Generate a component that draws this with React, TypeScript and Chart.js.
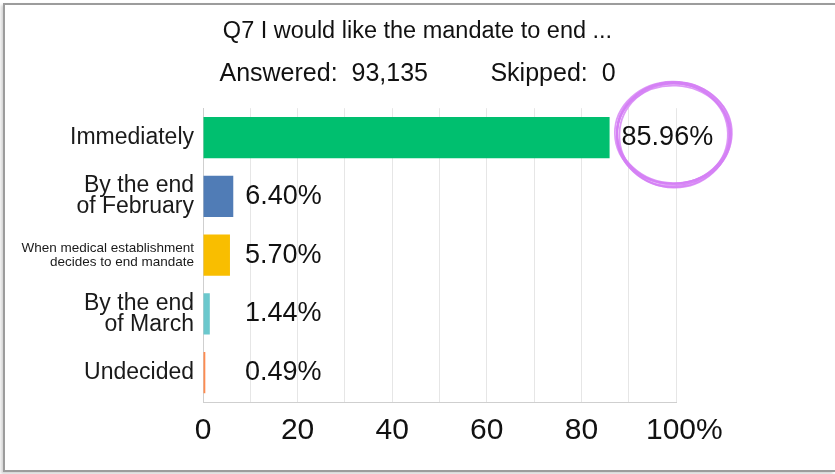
import React, { useEffect, useRef } from 'react';
import { Chart, registerables } from 'chart.js';

Chart.register(...registerables);

const FONT = '"Liberation Sans", Arial, Helvetica, sans-serif';

const titleText = 'Q7 I would like the mandate to end ...';
const answeredText = 'Answered:  93,135';
const skippedText = 'Skipped:  0';

const categories: (string | string[])[] = [
  'Immediately',
  ['By the end', 'of February'],
  ['When medical establishment', 'decides to end mandate'],
  ['By the end', 'of March'],
  'Undecided',
];
const values = [85.96, 6.4, 5.7, 1.44, 0.49];
const barColors = ['#00BF6F', '#507CB6', '#F9BE00', '#6BC8CD', '#FF8B4F'];
const xLabelValues = [0, 20, 40, 60, 80, 100];
const xMax = 100;

const sketchStrokes = [
  [0, 0, 0, 0, 0],
  [1, -1, 1.5, 0.5, 0.03],
  [-1, 1, -0.5, 1.5, -0.03],
  [0.5, 1.5, 1, -0.5, 0.05],
  [-0.5, -1, 2, 1, -0.02],
  [1, 2, -1, 2, 0.02],
  [0, 1, 0.5, 2.5, 0.01],
];

const valueLabels = {
  id: 'valueLabels',
  afterDatasetsDraw(chart: any) {
    const { ctx } = chart;
    const meta = chart.getDatasetMeta(0);
    const x0 = chart.scales.x.getPixelForValue(0);
    const maxIdx = values.indexOf(Math.max(...values));
    ctx.save();
    ctx.font = `27px ${FONT}`;
    ctx.fillStyle = '#111';
    ctx.textAlign = 'left';
    ctx.textBaseline = 'middle';
    meta.data.forEach((bar: any, i: number) => {
      const text = values[i].toFixed(2) + '%';
      const x = Math.max(bar.x + 12, x0 + 42);
      ctx.fillText(text, x, bar.y);
      if (i === maxIdx) {
        const w = ctx.measureText(text).width;
        const cx = x + w / 2 + 6;
        const cy = bar.y - 4;
        ctx.save();
        ctx.strokeStyle = 'rgba(212, 128, 245, 0.8)';
        ctx.lineWidth = 1.8;
        sketchStrokes.forEach(([dx, dy, drx, dry, rot]) => {
          ctx.beginPath();
          ctx.ellipse(cx + dx, cy + dy, 56 + drx, 50 + dry, rot, 0, Math.PI * 2);
          ctx.stroke();
        });
        ctx.restore();
      }
    });
    ctx.restore();
  },
};

export default function App() {
  const ref = useRef<HTMLCanvasElement | null>(null);

  useEffect(() => {
    if (!ref.current) return;
    const chart = new Chart(ref.current, {
      type: 'bar',
      data: {
        labels: categories,
        datasets: [
          {
            data: values,
            backgroundColor: barColors,
            borderWidth: 0,
            barPercentage: 0.7,
            categoryPercentage: 1,
          },
        ],
      },
      options: {
        indexAxis: 'y',
        responsive: false,
        animation: false,
        layout: { padding: { top: 0, left: 5, right: 5, bottom: 0 } },
        plugins: {
          legend: { display: false },
          tooltip: { enabled: false },
          title: {
            display: true,
            text: titleText,
            color: '#111',
            font: { family: FONT, size: 23.5, weight: 'normal', lineHeight: 1.2 },
            padding: { top: 17, bottom: 14 },
          },
          subtitle: {
            display: true,
            text: answeredText + ' '.repeat(9) + skippedText,
            color: '#111',
            font: { family: FONT, size: 25, weight: 'normal', lineHeight: 1.2 },
            padding: { top: 0, bottom: 19 },
          },
        },
        scales: {
          x: {
            type: 'linear',
            min: 0,
            max: xMax,
            grid: { color: '#e6e6e6', drawTicks: false, lineWidth: 1 },
            border: { display: true, color: '#cfcfcf', width: 1 },
            ticks: {
              stepSize: 10,
              autoSkip: false,
              maxRotation: 0,
              padding: 11,
              color: '#111',
              font: { family: FONT, size: 30 },
              callback: (v: any) => {
                const n = Number(v);
                if (!xLabelValues.includes(n)) return '';
                return n === xMax ? '  ' + n + '%' : String(n);
              },
            },
            afterFit: (s: any) => {
              s.height = 72;
            },
          },
          y: {
            type: 'category',
            grid: { display: false, drawTicks: false },
            border: { display: true, color: '#cfcfcf', width: 1 },
            ticks: {
              padding: 9,
              color: '#1a1a1a',
              autoSkip: false,
              font: (c: any) =>
                c.index === 2
                  ? { family: FONT, size: 13.5, lineHeight: 1.0 }
                  : { family: FONT, size: 23, lineHeight: 0.92 },
            },
            afterFit: (s: any) => {
              s.width = 198;
            },
          },
          y2: {
            type: 'category',
            position: 'right',
            display: true,
            grid: { display: false, drawTicks: false },
            border: { display: false },
            ticks: { display: false },
            afterFit: (s: any) => {
              s.width = 154;
            },
          },
        },
      },
      plugins: [valueLabels],
    } as any);
    return () => chart.destroy();
  }, []);

  return (
    <div style={{ position: 'absolute', left: 0, top: 0, width: 835, height: 474, overflow: 'hidden', background: '#fff' }}>
      <div
        style={{
          position: 'absolute',
          left: 3,
          top: 3,
          width: 830,
          height: 465,
          borderTop: '2px solid #9c9c9c',
          borderLeft: '2px solid #9c9c9c',
          borderBottom: '2px solid #9c9c9c',
          boxShadow: '-2px 2px 3px rgba(0,0,0,0.18)',
        }}
      />
      <canvas ref={ref} width={835} height={474} style={{ position: 'absolute', left: 0, top: 0, display: 'block' }} />
    </div>
  );
}
